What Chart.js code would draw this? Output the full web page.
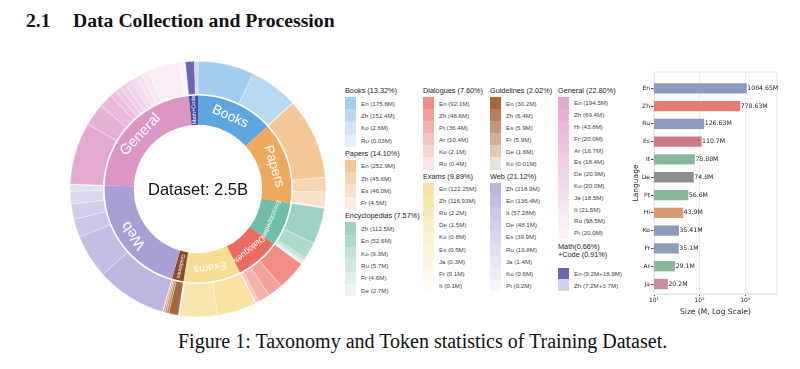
<!DOCTYPE html>
<html lang="en">
<head>
<meta charset="UTF-8">
<title>Taxonomy and Token statistics of Training Dataset</title>
<script src="https://cdn.jsdelivr.net/npm/chart.js"></script>
<style>
  body { margin: 0; background: #fff; width: 800px; height: 369px; position: relative; overflow: hidden;
         font-family: "Liberation Sans", Arial, sans-serif; }
  .heading { position: absolute; left: 26px; top: 9px; line-height: 24px; font: bold 19.7px "Liberation Serif", serif; color: #111; }
  .heading .num { display: inline-block; width: 47px; }
  #donutBox { position: absolute; left: 70px; top: 61px; width: 256px; height: 256px; }
  #barBox { position: absolute; left: 630px; top: 62px; width: 170px; height: 255px; }
  .legend-col { position: absolute; top: 84px; }
  .grp-title { font-size: 7.3px; color: #222; height: 13px; line-height: 13px; white-space: nowrap; }
  .grp-title.two { height: auto; line-height: 8.5px; margin: 4px 0 8px; }
  .item { display: flex; align-items: center; white-space: nowrap; font-size: 6.2px; color: #444; }
  .swatch { width: 11px; height: 100%; margin-right: 5px; }
  .caption { position: absolute; top: 330px; left: 178px; white-space: nowrap;
             font: 20px "Liberation Serif", serif; color: #111; }
</style>
</head>
<body>
<div class="heading"><span class="num">2.1</span>Data Collection and Procession</div>
<div id="donutBox"><canvas id="donut"></canvas></div>
<div id="legend"></div>
<div id="barBox"><canvas id="bars"></canvas></div>
<div class="caption">Figure 1: Taxonomy and Token statistics of Training Dataset.</div>
<script>
// ---- data ----
const categories = ['Books', 'Papers', 'Encyclopedias', 'Dialogues', 'Exams', 'Guidelines', 'Web', 'General', 'Math+Code'];
const legendTitles = ['Books (13.32%)', 'Papers (14.10%)', 'Encyclopedias (7.57%)', 'Dialogues (7.60%)', 'Exams (9.89%)',
                      'Guidelines (2.02%)', 'Web (21.12%)', 'General (22.80%)', 'Math(0.66%)<br>+Code (0.91%)'];
const subLanguages = [
  ['En', 'Zh', 'Ko', 'Ru'],
  ['En', 'Zh', 'Es', 'Fr'],
  ['Zh', 'En', 'Ko', 'Ru', 'Fr', 'De'],
  ['En', 'Zh', 'Pt', 'Ar', 'Ko', 'Ru'],
  ['En', 'Zh', 'Ru', 'De', 'Ko', 'Es', 'Ja', 'Fr', 'It'],
  ['En', 'Zh', 'Es', 'Fr', 'De', 'Ko'],
  ['Zh', 'En', 'It', 'De', 'Es', 'Ru', 'Ja', 'Ko', 'Pt'],
  ['En', 'Zh', 'Hi', 'Fr', 'Ar', 'Es', 'De', 'Ko', 'Ja', 'It', 'Ru', 'Pt'],
  ['En', 'Zh']
];
// token counts in millions (kept as written in the legend)
const subTokens = [
  ['175.6', '151.4', '2.6', '0.03'],
  ['252.9', '45.6', '46.0', '4.5'],
  ['112.5', '52.6', '9.3', '5.7', '4.6', '2.7'],
  ['92.1', '46.6', '36.4', '10.4', '2.1', '0.4'],
  ['122.25', '116.93', '2.2', '1.5', '0.8', '0.5', '0.3', '0.1', '0.1'],
  ['30.2', '6.4', '5.9', '5.9', '1.6', '0.01'],
  ['218.9', '136.4', '57.28', '48.1', '39.9', '19.8', '1.4', '0.6', '0.2'],
  ['194.5', '69.4', '43.8', '20.0', '18.7', '18.4', '20.9', '20.0', '18.5', '21.5', '98.5', '20.0'],
  null
];
const mathTokens = ['9.2', '7.2'];
const codeTokens = ['18.9', '3.7'];

const languages = ['En', 'Zh', 'Ru', 'Es', 'It', 'De', 'Pt', 'Hi', 'Ko', 'Fr', 'Ar', 'Ja'];
const languageTokens = [1084.65, 778.63, 126.63, 110.7, 78.88, 74.8, 56.6, 43.9, 35.41, 35.1, 29.1, 20.2];
const xTickLabels = { 10: '10\u00b9', 100: '10\u00b2', 1000: '10\u00b3' };

// ---- colours ----
const categoryColors = ['#5da6df', '#eea95f', '#72bdaa', '#ea6b61', '#f5de93', '#8a4b2a', '#a89fd4', '#dc96c6', '#4a4a9e'];
const subColors = [
  ['#a3cdef', '#b9d9f2', '#cfe4f6', '#e3effa'],
  ['#f4c799', '#f6d5b3', '#f9e1c8', '#fcefe1'],
  ['#9dd1c4', '#addacd', '#bfe2d9', '#cfe9e2', '#ddf0eb', '#ebf6f3'],
  ['#ef8e85', '#f2a29b', '#f4b2ac', '#f6c4c0', '#f9d5d2', '#fbe6e4'],
  ['#f7e3a3', '#f8e7af', '#f9eabb', '#faeec6', '#fbf1cf', '#fbf4d8', '#fcf6e0', '#fdf9e9', '#fefcf3'],
  ['#a8683f', '#b57f5e', '#c3977a', '#d1af99', '#dfc9b9', '#ede1d7'],
  ['#bdb6df', '#c4bee3', '#ccc7e7', '#d3cfea', '#dad7ee', '#e1dff1', '#e8e6f5', '#efeef8', '#f6f5fb'],
  ['#e4a9d1', '#e7b1d5', '#eab9d9', '#ecc0dd', '#eec7e1', '#f0cee5', '#f2d4e8', '#f4daec', '#f6e1ef', '#f8e7f3', '#faeef6', '#fcf4fa'],
  ['#6a68b0', '#d5d3ec']
];
const barColors = ['#8d9bbe', '#e47c72', '#8d9bbe', '#c97a86', '#88b79a', '#8f8f8f', '#88b79a', '#db9a74', '#8d9bbe', '#8f9fba', '#88b79a', '#c88e9c'];

// Math+Code totals are math + code per language
const subValues = subTokens.map((arr, i) => arr ? arr.map(Number)
  : mathTokens.map((m, j) => Number(m) + Number(codeTokens[j])));
const subText = subTokens.map((arr, i) => subLanguages[i].map((lang, j) => arr
  ? `${lang} (${arr[j]}M)` : `${lang} (${mathTokens[j]}M+${codeTokens[j]}M)`));
const categoryTotals = subValues.map(a => a.reduce((s, v) => s + v, 0));

// ---- legend (HTML) ----
const legendColumns = [
  { left: 345, groups: [0, 1, 2], row: 12.4 },
  { left: 423, groups: [3, 4], row: 12.1 },
  { left: 490, groups: [5, 6], row: 12.1 },
  { left: 558, groups: [7, 8], row: 11.8 }
];
const legendEl = document.getElementById('legend');
legendColumns.forEach(col => {
  const div = document.createElement('div');
  div.className = 'legend-col';
  div.style.left = col.left + 'px';
  col.groups.forEach(g => {
    const t = document.createElement('div');
    t.className = 'grp-title' + (g === 8 ? ' two' : '');
    t.innerHTML = legendTitles[g];
    div.appendChild(t);
    subText[g].forEach((txt, j) => {
      const it = document.createElement('div');
      it.className = 'item';
      it.style.height = col.row + 'px';
      it.innerHTML = `<span class="swatch" style="background:${subColors[g][j]}"></span>${txt}`;
      div.appendChild(it);
    });
  });
  legendEl.appendChild(div);
});

// ---- sunburst ----
const ringLabels = {
  id: 'ringLabels',
  afterDatasetsDraw(chart, args, opts) {
    const ctx = chart.ctx;
    const outer = chart.getDatasetMeta(0).data;
    const inner = chart.getDatasetMeta(1).data;
    const o = outer[0].getProps(['x', 'y', 'innerRadius'], true);
    ctx.save();
    // white separator between the two rings
    ctx.beginPath();
    ctx.arc(o.x, o.y, o.innerRadius, 0, Math.PI * 2);
    ctx.strokeStyle = '#fff';
    ctx.lineWidth = 1.6;
    ctx.stroke();
    ctx.fillStyle = '#fff';
    ctx.textAlign = 'center';
    ctx.textBaseline = 'middle';
    inner.forEach((arc, i) => {
      const p = arc.getProps(['x', 'y', 'startAngle', 'endAngle', 'innerRadius', 'outerRadius'], true);
      const mid = (p.startAngle + p.endAngle) / 2;
      const r = (p.innerRadius + p.outerRadius) / 2;
      ctx.save();
      ctx.translate(p.x + Math.cos(mid) * r, p.y + Math.sin(mid) * r);
      const radial = (p.endAngle - p.startAngle) < 0.15;
      ctx.rotate(radial ? mid : mid + Math.PI / 2);
      ctx.font = `${opts.sizes[i]}px "Liberation Sans", Arial, sans-serif`;
      ctx.fillText(categories[i], 0, 0);
      ctx.restore();
    });
    ctx.fillStyle = '#111';
    ctx.font = '16.5px "Liberation Sans", Arial, sans-serif';
    ctx.fillText('Dataset: 2.5B', o.x, o.y + 1);
    ctx.restore();
  }
};

new Chart(document.getElementById('donut'), {
  type: 'doughnut',
  data: {
    labels: subLanguages.flat(),
    datasets: [
      { data: subValues.flat(), backgroundColor: subColors.flat(), borderColor: 'rgba(255,255,255,0.75)', borderWidth: 0.4, weight: 33.5 },
      { data: categoryTotals, backgroundColor: categoryColors, borderWidth: 0, weight: 30 }
    ]
  },
  options: {
    responsive: true,
    maintainAspectRatio: false,
    animation: false,
    cutout: '50.2%',
    hoverOffset: 0,
    layout: { padding: 0 },
    plugins: {
      legend: { display: false },
      tooltip: { enabled: false },
      ringLabels: { sizes: [13.7, 13.6, 6.3, 8.4, 10.8, 5.2, 15, 14.6, 5.6] }
    }
  },
  plugins: [ringLabels]
});

// ---- language bars ----
const isDecade = v => { const l = Math.log10(v); return Math.abs(l - Math.round(l)) < 1e-9; };

const frame = {
  id: 'frame',
  beforeDatasetsDraw(chart) {
    const { ctx, chartArea: a } = chart;
    ctx.save();
    ctx.strokeStyle = '#e6e6e6';
    ctx.lineWidth = 1;
    ctx.strokeRect(a.left, a.top, a.right - a.left, a.bottom - a.top);
    ctx.restore();
  }
};
const valueLabels = {
  id: 'valueLabels',
  afterDatasetsDraw(chart) {
    const ctx = chart.ctx;
    ctx.save();
    ctx.font = '6.2px "DejaVu Sans", sans-serif';
    ctx.fillStyle = '#222';
    ctx.textBaseline = 'middle';
    chart.getDatasetMeta(0).data.forEach((bar, i) => {
      ctx.fillText(languageTokens[i] + 'M', bar.x + 0.5, bar.y);
    });
    ctx.restore();
  }
};

new Chart(document.getElementById('bars'), {
  type: 'bar',
  data: {
    datasets: [{
      data: languageTokens.map((v, i) => ({ x: v, y: i })),
      backgroundColor: barColors,
      borderWidth: 0,
      barPercentage: 0.58,
      categoryPercentage: 1
    }]
  },
  options: {
    indexAxis: 'y',
    responsive: true,
    maintainAspectRatio: false,
    animation: false,
    layout: { padding: { top: 10, right: 23, left: 0, bottom: 0 } },
    plugins: { legend: { display: false }, tooltip: { enabled: false } },
    scales: {
      x: {
        type: 'logarithmic',
        min: 10,
        max: 5000,
        border: { color: '#e6e6e6' },
        grid: {
          color: c => c.tick && isDecade(c.tick.value) ? '#ececec' : 'rgba(0,0,0,0)',
          tickColor: c => c.tick && isDecade(c.tick.value) ? '#444' : 'rgba(0,0,0,0)',
          tickLength: 2
        },
        ticks: {
          autoSkip: false,
          maxRotation: 0,
          padding: 1,
          color: '#222',
          font: { size: 6, family: 'DejaVu Sans' },
          callback: v => xTickLabels[v] || ''
        },
        title: { display: true, text: 'Size (M, Log Scale)', color: '#222',
                 font: { size: 7.5, family: 'DejaVu Sans' }, padding: { top: 0, bottom: 0 } },
        afterFit: s => { s.height = 23; }
      },
      y: {
        type: 'linear',
        reverse: true,
        offset: false,
        min: -0.916,
        max: 11.562,
        border: { color: '#e6e6e6' },
        afterBuildTicks: s => { s.ticks = languages.map((_, i) => ({ value: i })); },
        grid: { drawOnChartArea: false, offset: false, tickLength: 3, tickColor: '#444' },
        ticks: {
          padding: 1,
          color: '#222',
          font: { size: 6, family: 'DejaVu Sans' },
          callback: v => languages[v]
        },
        title: { display: true, text: 'Language', color: '#222',
                 font: { size: 7.5, family: 'DejaVu Sans' }, padding: { top: 2, bottom: 0 } },
        afterFit: s => { s.width = 24; }
      }
    }
  },
  plugins: [frame, valueLabels]
});
</script>
</body>
</html>
